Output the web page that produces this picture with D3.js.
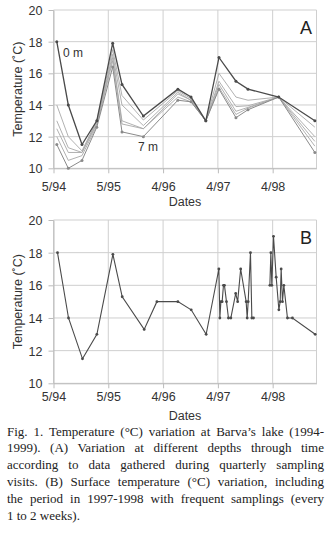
<!DOCTYPE html>
<html>
<head>
<meta charset="utf-8">
<script src="https://cdn.jsdelivr.net/npm/d3@7"></script>
<style>
  html, body { margin: 0; padding: 0; background: #fff; }
  #wrap { position: relative; width: 331px; height: 543px; overflow: hidden; }
  svg { position: absolute; left: 0; top: 0; }
  #caption { position: absolute; left: 7px; top: 423.5px; width: 317px;
    font-family: "Liberation Serif", "Times New Roman", serif; font-size: 13px;
    line-height: 16.9px; color: #222; }
  #caption .j { text-align: justify; text-align-last: justify; white-space: nowrap; }
  #caption .l { text-align: left; }
</style>
</head>
<body>
<div id="wrap">
<svg id="chart" width="331" height="543"></svg>
<div id="caption"></div>
</div>
<script>
// ---- data ----
const xTickVals = [0, 1, 2, 3, 4];
const xTickLabels = ["5/94", "5/95", "4/96", "4/97", "4/98"];
const yTicks = [10, 12, 14, 16, 18, 20];

// Panel A: quarterly sampling, temperature by depth
const datesA = [0.06, 0.27, 0.52, 0.79, 1.08, 1.25, 1.64, 2.27, 2.51, 2.78, 3.02, 3.33, 3.55, 4.11, 4.77];
const depth0m = [18, 14, 11.5, 13, 17.9, 15.3, 13.3, 15, 14.5, 13, 17, 15.5, 15, 14.5, 13];
const depth1m = [14, 12, 11.1, 13, 17.5, 14.6, 13.05, 14.9, 14.4, 13, 16, 14.5, 14.3, 14.5, 12.6];
const depth2m = [13, 11.3, 11, 12.9, 17.2, 14, 12.7, 14.8, 14.3, 13, 15.5, 13.9, 13.95, 14.5, 12];
const depth3m = [12.5, 11, 11, 12.8, 17, 13, 12.5, 14.7, 14.3, 13, 15.3, 13.6, 13.85, 14.5, 11.7];
const depth5m = [12, 10.5, 10.8, 12.7, 16.8, 12.8, 12.5, 14.5, 14.2, 13, 15.1, 13.4, 13.8, 14.5, 11.4];
const depth7m = [11.5, 10, 10.5, 12.6, 16.4, 12.3, 12, 14.3, 14.2, 13, 15, 13.2, 13.7, 14.5, 11];

// Panel B: surface temperature incl. frequent samplings (null = gap)
const datesB = [0.073, 0.274, 0.529, 0.792, 1.084, 1.254, 1.655, 1.887, 2.27, 2.513, 2.786,
  3.018, 3.036, 3.055, 3.078, 3.102, 3.12, 3.157, 3.193, 3.237, 3.325, 3.361, 3.416, 3.516, 3.535, 3.553, 3.595, 3.62, 3.65,
  3.8,
  3.949, 3.967, 3.985, 4.015, 4.064, 4.113, 4.137, 4.155, 4.179, 4.204, 4.27, 4.361, 4.776];
const surfaceB = [18, 14, 11.5, 13, 17.9, 15.3, 13.3, 15, 15, 14.5, 13,
  17, 14, 15, 15, 16, 16, 15, 14, 14, 15.5, 15, 17, 15, 14, 15, 18, 14, 14,
  null,
  16, 18, 16, 19, 16.5, 14.5, 15, 17, 15, 16, 14, 14, 13];

const captionLines = [
  "Fig. 1. Temperature (°C) variation at Barva’s lake (1994-",
  "1999). (A) Variation at different depths through time",
  "according to data gathered during quarterly sampling",
  "visits. (B) Surface temperature (°C) variation, including",
  "the period in 1997-1998 with frequent samplings (every",
  "1 to 2 weeks)."
];

// ---- drawing ----
const svg = d3.select("#chart");
const FONT = "'Liberation Sans', Arial, Helvetica, sans-serif";
const left = 53.5, right = 316.5;
const x = d3.scaleLinear().domain([0, 4.8]).range([left, right]);

function panel(top, bottom, letter, labelY, datesLabelY) {
  const y = d3.scaleLinear().domain([10, 20]).range([bottom, top]);
  const g = svg.append("g");
  // grid
  g.selectAll(".hg").data(yTicks).join("line")
    .attr("x1", left).attr("x2", right)
    .attr("y1", d => y(d)).attr("y2", d => y(d))
    .attr("stroke", "#cfcfcf").attr("stroke-width", 1);
  g.selectAll(".vg").data(xTickVals).join("line")
    .attr("x1", d => x(d)).attr("x2", d => x(d))
    .attr("y1", top).attr("y2", bottom)
    .attr("stroke", "#cfcfcf").attr("stroke-width", 1);
  g.append("line").attr("x1", right).attr("x2", right).attr("y1", top).attr("y2", bottom)
    .attr("stroke", "#cfcfcf");
  // axes
  const ya = g.append("g").attr("transform", `translate(${left},0)`)
    .call(d3.axisLeft(y).tickValues(yTicks).tickSize(5).tickPadding(6).tickSizeOuter(0));
  const xa = g.append("g").attr("transform", `translate(0,${bottom})`)
    .call(d3.axisBottom(x).tickValues(xTickVals).tickFormat((d, i) => xTickLabels[i])
      .tickSize(5).tickPadding(labelY - bottom - 5).tickSizeOuter(0));
  [ya, xa].forEach(a => {
    a.select(".domain").attr("stroke", "#bbb");
    a.selectAll(".tick line").attr("stroke", "#bbb");
    a.selectAll("text").attr("fill", "#333").style("font-family", FONT).style("font-size", "12.5px");
  });
  xa.selectAll("text").attr("dy", "0");
  ya.selectAll("text").attr("dy", "0.36em");
  // axis titles
  g.append("text").attr("x", (left + right) / 2).attr("y", datesLabelY)
    .attr("text-anchor", "middle").attr("fill", "#333")
    .style("font-family", FONT).style("font-size", "12.5px").text("Dates");
  g.append("text").attr("transform", `translate(22,${(top + bottom) / 2}) rotate(-90)`)
    .attr("text-anchor", "middle").attr("fill", "#333")
    .style("font-family", FONT).style("font-size", "12.5px").text("Temperature (˚C)");
  g.append("text").attr("x", 306).attr("y", top + 24).attr("text-anchor", "middle")
    .attr("fill", "#222").style("font-family", FONT).style("font-size", "18px").text(letter);
  return { g, y };
}

// Panel A
const A = panel(10, 168.3, "A", 191, 206);
const seriesA = [
  { v: depth1m, c: "#a8a8a8", w: 0.9, m: false },
  { v: depth2m, c: "#a8a8a8", w: 0.9, m: false },
  { v: depth3m, c: "#a8a8a8", w: 0.9, m: false },
  { v: depth5m, c: "#a8a8a8", w: 0.9, m: false },
  { v: depth7m, c: "#8a8a8a", w: 1, m: true },
  { v: depth0m, c: "#4a4a4a", w: 1.3, m: true }
];
seriesA.forEach(s => {
  const pts = datesA.map((d, i) => ({ t: d, v: s.v[i] }));
  A.g.append("path").datum(pts)
    .attr("fill", "none").attr("stroke", s.c).attr("stroke-width", s.w)
    .attr("d", d3.line().x(d => x(d.t)).y(d => A.y(d.v)));
  if (s.m) {
    A.g.selectAll(null).data(pts).join("circle")
      .attr("cx", d => x(d.t)).attr("cy", d => A.y(d.v)).attr("r", 1.5).attr("fill", s.c);
  }
});
A.g.append("text").attr("x", 63).attr("y", 57).attr("fill", "#333")
  .style("font-family", FONT).style("font-size", "12px").text("0 m");
A.g.append("text").attr("x", 138).attr("y", 151).attr("fill", "#333")
  .style("font-family", FONT).style("font-size", "12px").text("7 m");

// Panel B
const B = panel(220, 383.3, "B", 401, 419.5);
const ptsB = datesB.map((d, i) => ({ t: d, v: surfaceB[i] }));
B.g.append("path").datum(ptsB)
  .attr("fill", "none").attr("stroke", "#4a4a4a").attr("stroke-width", 1.1)
  .attr("d", d3.line().defined(d => d.v != null).x(d => x(d.t)).y(d => B.y(d.v)));
B.g.selectAll(null).data(ptsB.filter(d => d.v != null)).join("circle")
  .attr("cx", d => x(d.t)).attr("cy", d => B.y(d.v)).attr("r", 1.4).attr("fill", "#4a4a4a");

// Caption
d3.select("#caption").selectAll("div").data(captionLines).join("div")
  .attr("class", (d, i) => i < captionLines.length - 1 ? "j" : "l")
  .text(d => d);
</script>
</body>
</html>
